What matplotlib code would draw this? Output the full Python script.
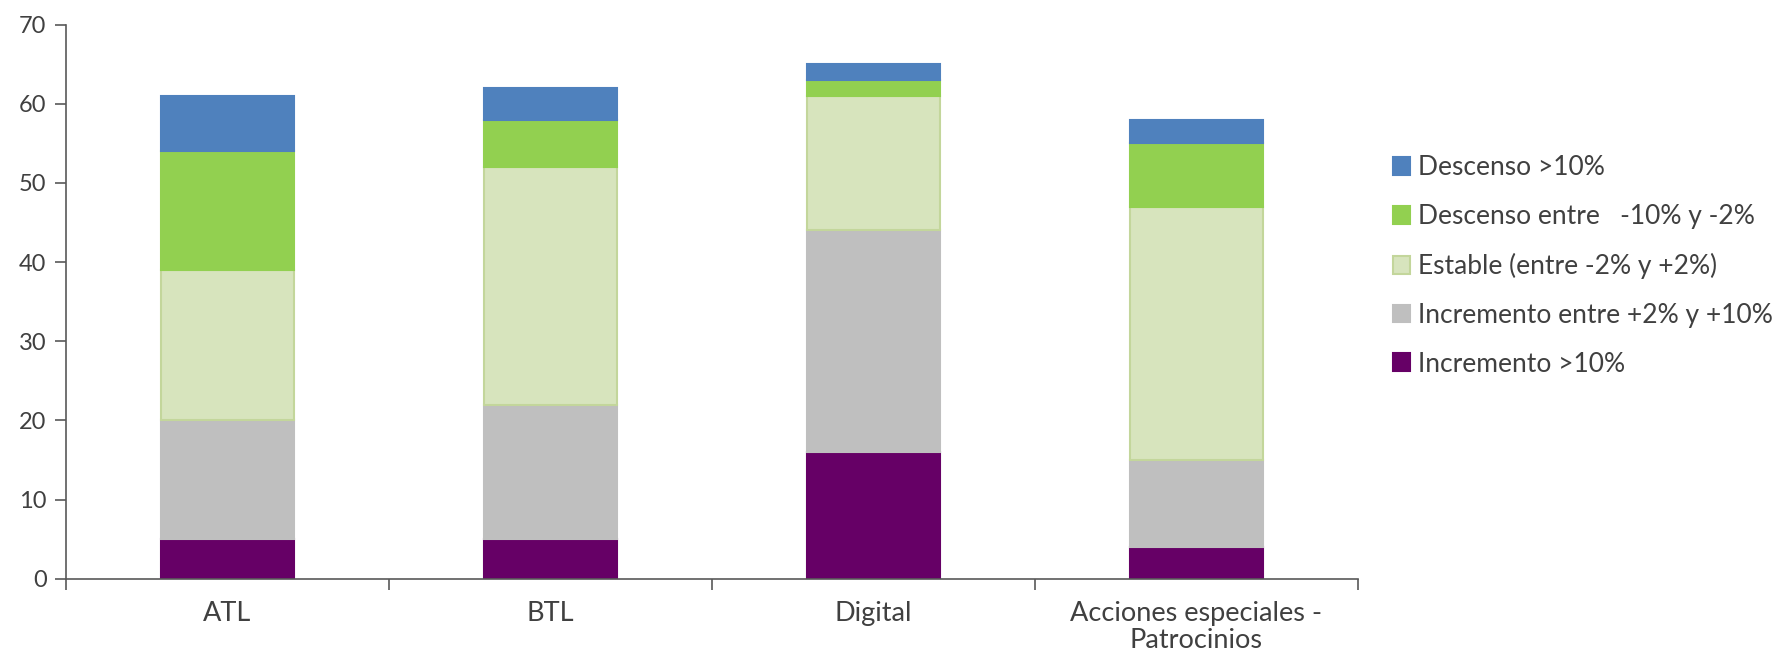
import numpy as np
import matplotlib.pyplot as plt

plt.rcParams['font.family'] = ['Lato', 'DejaVu Sans']

categories = ['ATL', 'BTL', 'Digital', 'Acciones especiales -\nPatrocinios']
series_names = ['Incremento >10%', 'Incremento entre +2% y +10%',
                'Estable (entre -2% y +2%)', 'Descenso entre   -10% y -2%',
                'Descenso >10%']
incr_10 = [5, 5, 16, 4]
incr_2_10 = [15, 17, 28, 11]
estable = [19, 30, 17, 32]
desc_2_10 = [15, 6, 2, 8]
desc_10 = [7, 4, 2, 3]

colors = ['#660066', '#BFBFBF', '#D7E4BD', '#92D050', '#4F81BD']
edges = ['#660066', '#BFBFBF', '#C3D69B', '#92D050', '#4F81BD']
text_col = '#404040'

fig = plt.figure(figsize=(17.88, 6.59), dpi=100)
ax = fig.add_axes([0.0369, 0.1219, 0.7226, 0.8406])

x = np.arange(len(categories))
bottom = np.zeros(len(categories))
bars = []
for vals, name, c, ec in zip([incr_10, incr_2_10, estable, desc_2_10, desc_10],
                              series_names, colors, edges):
    b = ax.bar(x, vals, 0.41, bottom=bottom, color=c, edgecolor=ec,
               linewidth=1.5, label=name)
    bars.append(b)
    bottom += np.array(vals)

ax.set_xlim(-0.5, len(categories) - 0.5)
ax.set_ylim(0, 70)
ax.set_yticks(range(0, 71, 10))
ax.set_xticks(x)
ax.set_xticklabels(categories, fontsize=19.5, color=text_col, linespacing=1.1)
ax.tick_params(axis='x', length=0, pad=16)
ax.set_xticks(np.arange(-0.5, len(categories), 1), minor=True)
ax.tick_params(axis='x', which='minor', length=8, color='#595959', width=1.2)
ax.tick_params(axis='y', labelsize=17, labelcolor=text_col, length=8,
               color='#595959', width=1.2, pad=6)

for s in ['top', 'right']:
    ax.spines[s].set_visible(False)
for s in ['left', 'bottom']:
    ax.spines[s].set_color('#595959')
    ax.spines[s].set_linewidth(1.2)

handles = bars[::-1]
labels = series_names[::-1]
fig.legend(handles, labels, loc='center left',
           bbox_to_anchor=(1393 / 1788, 1 - 266 / 659),
           frameon=False, fontsize=19, handlelength=0.65, handleheight=0.65,
           handletextpad=0.3, labelspacing=0.9, borderpad=0, borderaxespad=0,
           labelcolor=text_col)

fig.savefig('out.png', dpi=100)
